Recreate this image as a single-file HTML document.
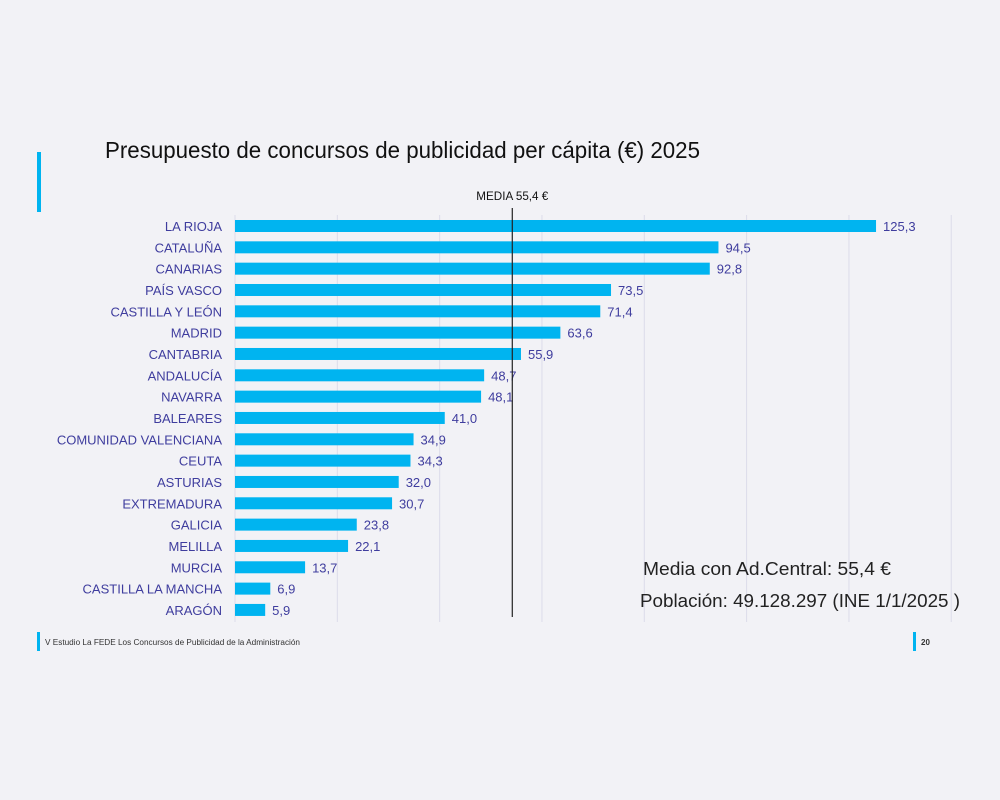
<!DOCTYPE html>
<html><head><meta charset="utf-8">
<style>
html,body{margin:0;padding:0;background:#f2f2f6;}
svg{display:block;font-family:"Liberation Sans",sans-serif;}
</style></head>
<body>
<svg id="chart" width="1000" height="800" viewBox="0 0 1000 800">
<rect width="1000" height="800" fill="#f2f2f6"/>
<rect x="37" y="152" width="4" height="60" fill="#00b4f0"/>
<text x="105" y="158" font-size="23" fill="#111" textLength="595" lengthAdjust="spacingAndGlyphs">Presupuesto de concursos de publicidad per cápita (€) 2025</text>
<g id="grid"></g>
<g id="bars"></g>
<g id="media"></g>
<text x="643" y="575" font-size="18" fill="#222" textLength="248" lengthAdjust="spacingAndGlyphs">Media con Ad.Central: 55,4 €</text>
<text x="640" y="607" font-size="18" fill="#222" textLength="320" lengthAdjust="spacingAndGlyphs">Población: 49.128.297 (INE 1/1/2025 )</text>
<rect x="37" y="632" width="3" height="19" fill="#00b4f0"/>
<text x="45" y="645" font-size="8" fill="#333" textLength="255" lengthAdjust="spacingAndGlyphs">V Estudio La FEDE Los Concursos de Publicidad de la  Administración</text>
<rect x="913" y="632" width="3" height="19" fill="#00b4f0"/>
<text x="921" y="645" font-size="8" fill="#333" font-weight="bold">20</text>
</svg>
<script>
const categories = ["LA RIOJA","CATALUÑA","CANARIAS","PAÍS VASCO","CASTILLA Y LEÓN","MADRID","CANTABRIA","ANDALUCÍA","NAVARRA","BALEARES","COMUNIDAD VALENCIANA","CEUTA","ASTURIAS","EXTREMADURA","GALICIA","MELILLA","MURCIA","CASTILLA LA MANCHA","ARAGÓN"];
const values = [125.3,94.5,92.8,73.5,71.4,63.6,55.9,48.7,48.1,41.0,34.9,34.3,32.0,30.7,23.8,22.1,13.7,6.9,5.9];
const valueLabels = ["125,3","94,5","92,8","73,5","71,4","63,6","55,9","48,7","48,1","41,0","34,9","34,3","32,0","30,7","23,8","22,1","13,7","6,9","5,9"];
const gridTicks = [0,20,40,60,80,100,120,140];
const mediaValue = [54.2];
const mediaLabel = ["MEDIA 55,4 €"];

const NS="http://www.w3.org/2000/svg";
const x0=235, kx=5.116, y0=226, dy=21.33, bh=12;
const xs=v=>x0+v*kx;
const ys=i=>y0+i*dy;
function mk(tag,attrs,parent){const e=document.createElementNS(NS,tag);for(const k in attrs)e.setAttribute(k,attrs[k]);parent.appendChild(e);return e;}
const grid=document.getElementById('grid');
gridTicks.forEach(t=>{
  const l=mk('line',{x1:xs(t),x2:xs(t),y1:215,y2:622,stroke:'#dcdcea','stroke-width':1},grid);
  
  
});
const bars=document.getElementById('bars');
categories.forEach((c,i)=>{
  const y=ys(i);
  const lab=mk('text',{x:222,y:y+5,'font-size':13,fill:'#3f3d9e','text-anchor':'end'},bars);
  lab.textContent=c;
  
  
  const r=mk('rect',{x:x0,y:y-bh/2,width:xs(values[i])-x0,height:bh,fill:'#00b4f0'},bars);
  
  
  const vl=mk('text',{x:xs(values[i])+7,y:y+5,'font-size':13,fill:'#3f3d9e'},bars);
  vl.textContent=valueLabels[i];
  
  
});
const media=document.getElementById('media');
const mx=xs(mediaValue[0]);
const ml=mk('line',{x1:mx,x2:mx,y1:208,y2:617,stroke:'#222','stroke-width':1.2},media);


const mt=mk('text',{x:mx,y:200,'font-size':12,fill:'#111','text-anchor':'middle',textLength:72,lengthAdjust:'spacingAndGlyphs'},media);
mt.textContent=mediaLabel[0];


</script>
</body></html>
